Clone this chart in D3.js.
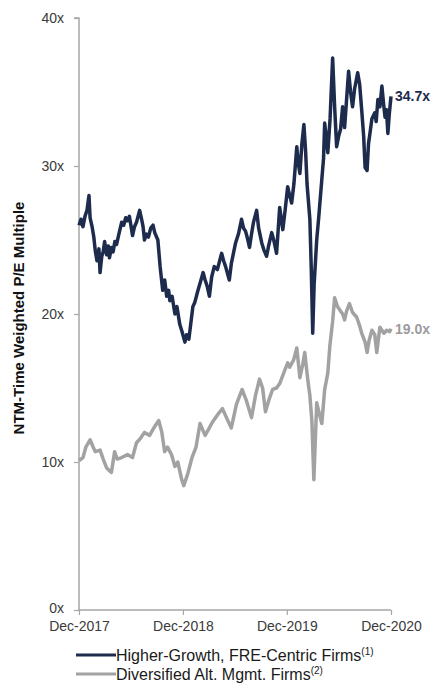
<!DOCTYPE html>
<html><head><meta charset="utf-8">
<script src="https://cdn.jsdelivr.net/npm/d3@7"></script>
<style>
html,body{margin:0;padding:0;background:#fff;}
svg{display:block;font-family:"Liberation Sans",Arial,sans-serif;}
</style></head>
<body><svg id="chart" width="438" height="683"></svg>
<script>
// ---- data ----
const yTicks = [0, 10, 20, 30, 40];
const yTickLabels = ["0x", "10x", "20x", "30x", "40x"];
const xTickDates = ["2017-12-01", "2018-12-01", "2019-12-01", "2020-12-01"];
const xTickLabels = ["Dec-2017", "Dec-2018", "Dec-2019", "Dec-2020"];
const seriesNames = ["Higher-Growth, FRE-Centric Firms", "Diversified Alt. Mgmt. Firms"];
const seriesNotes = ["(1)", "(2)"];
const endLabels = ["34.7x", "19.0x"];

const higherGrowthDates = ["2017-12-01","2017-12-08","2017-12-15","2017-12-22","2017-12-29","2018-01-05","2018-01-09","2018-01-16","2018-01-22","2018-01-27","2018-02-02","2018-02-09","2018-02-13","2018-02-19","2018-02-24","2018-03-01","2018-03-08","2018-03-14","2018-03-18","2018-03-25","2018-03-31","2018-04-06","2018-04-12","2018-04-20","2018-04-30","2018-05-07","2018-05-14","2018-05-20","2018-05-27","2018-06-03","2018-06-07","2018-06-14","2018-06-21","2018-07-02","2018-07-09","2018-07-14","2018-07-19","2018-07-26","2018-08-02","2018-08-10","2018-08-18","2018-08-24","2018-09-04","2018-09-12","2018-09-21","2018-09-28","2018-10-05","2018-10-12","2018-10-16","2018-10-24","2018-11-03","2018-11-10","2018-11-20","2018-11-28","2018-12-08","2018-12-14","2018-12-22","2019-01-05","2019-01-12","2019-01-23","2019-02-01","2019-02-10","2019-02-17","2019-02-24","2019-03-04","2019-03-12","2019-03-21","2019-04-01","2019-04-16","2019-04-23","2019-04-30","2019-05-13","2019-05-20","2019-06-04","2019-06-14","2019-06-25","2019-07-02","2019-07-09","2019-07-16","2019-07-23","2019-07-30","2019-08-06","2019-08-17","2019-08-24","2019-09-04","2019-09-12","2019-09-21","2019-09-28","2019-10-09","2019-10-16","2019-10-26","2019-11-06","2019-11-17","2019-11-25","2019-12-04","2019-12-11","2019-12-18","2019-12-26","2020-01-05","2020-01-10","2020-01-16","2020-01-23","2020-01-30","2020-02-05","2020-02-10","2020-02-20","2020-02-25","2020-03-01","2020-03-06","2020-03-15","2020-03-22","2020-04-02","2020-04-08","2020-04-12","2020-04-18","2020-04-23","2020-05-01","2020-05-10","2020-05-17","2020-05-24","2020-05-31","2020-06-07","2020-06-14","2020-06-21","2020-06-28","2020-07-05","2020-07-12","2020-07-19","2020-07-26","2020-08-06","2020-08-13","2020-08-20","2020-08-27","2020-09-01","2020-09-08","2020-09-13","2020-09-18","2020-09-25","2020-10-05","2020-10-10","2020-10-16","2020-10-23","2020-10-30","2020-11-05","2020-11-10","2020-11-15","2020-11-20","2020-11-25","2020-12-01"];
const higherGrowthValues = [26.0,26.4,25.9,26.6,27.0,28.0,26.5,25.9,25.2,24.3,23.6,24.4,22.8,23.9,24.2,24.9,24.0,24.6,23.8,24.5,24.2,24.9,24.7,25.4,26.2,26.0,26.5,26.3,26.6,25.8,25.3,25.9,26.2,27.0,26.4,25.9,25.0,25.4,25.2,25.8,26.0,25.5,25.0,23.2,21.6,22.3,21.2,21.6,20.9,21.2,20.0,20.5,19.3,18.8,18.1,18.6,18.3,20.5,20.8,21.6,22.2,22.8,22.3,21.9,21.2,22.5,23.2,23.0,24.1,23.6,23.2,22.3,23.4,24.8,25.4,26.4,25.8,25.6,25.1,24.5,25.4,26.2,27.0,25.8,24.8,24.3,23.9,24.6,25.5,25.0,24.1,27.2,25.7,27.0,28.6,28.0,27.5,28.8,31.3,30.2,29.5,31.5,32.8,31.0,28.8,26.4,23.0,18.7,22.0,25.0,26.5,29.1,30.5,32.9,31.9,30.9,33.2,37.3,34.0,31.3,32.0,32.5,34.0,32.6,34.5,36.4,35.0,34.0,35.2,36.3,35.5,33.8,32.0,29.9,29.7,31.5,32.2,33.2,33.6,33.0,34.5,34.0,35.4,34.2,33.3,33.8,32.2,33.5,34.7];

const diversifiedDates = ["2017-12-01","2017-12-15","2017-12-25","2018-01-09","2018-01-20","2018-01-27","2018-02-13","2018-02-24","2018-03-08","2018-03-25","2018-04-05","2018-04-14","2018-04-30","2018-05-20","2018-06-07","2018-06-21","2018-07-05","2018-07-19","2018-08-06","2018-08-24","2018-09-07","2018-09-18","2018-09-28","2018-10-08","2018-10-22","2018-11-03","2018-11-13","2018-11-27","2018-12-04","2018-12-18","2019-01-02","2019-01-16","2019-01-30","2019-02-17","2019-03-01","2019-03-15","2019-04-02","2019-04-19","2019-05-03","2019-05-20","2019-06-07","2019-06-27","2019-07-11","2019-07-30","2019-08-13","2019-08-27","2019-09-07","2019-09-17","2019-10-01","2019-10-12","2019-10-26","2019-11-06","2019-11-20","2019-12-04","2019-12-11","2019-12-25","2020-01-05","2020-01-16","2020-01-26","2020-02-02","2020-02-13","2020-02-20","2020-02-27","2020-03-05","2020-03-15","2020-03-25","2020-04-02","2020-04-12","2020-04-23","2020-04-30","2020-05-10","2020-05-17","2020-05-27","2020-06-03","2020-06-14","2020-06-21","2020-06-28","2020-07-08","2020-07-19","2020-08-02","2020-08-13","2020-08-20","2020-09-01","2020-09-08","2020-09-15","2020-09-25","2020-10-05","2020-10-12","2020-10-19","2020-10-23","2020-11-06","2020-11-16","2020-11-26","2020-12-01"];
const diversifiedValues = [10.1,10.3,11.0,11.5,11.0,10.7,10.8,10.2,9.6,9.3,10.7,10.2,10.3,10.5,10.3,11.3,11.6,12.0,11.8,12.4,12.8,12.0,10.7,11.0,10.5,9.7,10.0,8.8,8.4,9.2,10.3,11.0,12.6,11.8,12.2,12.7,13.2,13.6,13.0,12.3,13.9,14.9,14.2,13.0,14.5,15.6,15.0,13.4,14.3,14.9,15.0,15.3,16.0,16.7,16.4,16.9,17.7,15.7,16.6,17.4,15.5,14.5,12.8,8.8,14.0,13.2,12.6,14.9,16.0,17.8,19.5,21.1,20.5,20.3,20.0,19.6,20.2,20.7,20.1,19.8,19.2,18.7,18.1,17.4,18.2,18.9,18.6,17.4,18.5,19.1,18.7,18.9,18.8,19.0];

const colors = ["#1d2b4c", "#a2a2a2"];

// ---- chart ----
(function () {
const svg = d3.select("#chart");
const parse = d3.timeParse("%Y-%m-%d");
const plotLeft = 79, plotRight = 391, plotTop = 18, plotBottom = 610;

const x = d3.scaleTime()
  .domain([parse(xTickDates[0]), parse(xTickDates[xTickDates.length - 1])])
  .range([plotLeft, plotRight]);
const y = d3.scaleLinear().domain([0, 40]).range([plotBottom, plotTop]);

const axisColor = "#a6a6a6";
const textColor = "#3a3a3a";

// y axis
const yAxis = svg.append("g").attr("transform", `translate(${plotLeft},0)`)
  .call(d3.axisLeft(y).tickValues(yTicks).tickSize(5).tickPadding(10)
    .tickFormat((d, i) => yTickLabels[i]));
yAxis.select(".domain").attr("stroke", axisColor).attr("stroke-width", 1.5).attr("d", `M-5,${y(40)}H0V${y(0)}`);
yAxis.selectAll(".tick line").attr("stroke", axisColor).attr("stroke-width", 1.2);
yAxis.selectAll(".tick text").attr("fill", textColor).style("font-size", "14px")
  .style("font-family", '"Liberation Sans",Arial,sans-serif');
yAxis.selectAll(".tick text").filter(d => d === 0).attr("dy", "0.2em");

// x axis
const xAxis = svg.append("g").attr("transform", `translate(0,${plotBottom})`)
  .call(d3.axisBottom(x).tickValues(xTickDates.map(parse)).tickSize(5).tickPadding(6)
    .tickFormat((d, i) => xTickLabels[i]));
xAxis.select(".domain").attr("stroke", axisColor).attr("stroke-width", 1.5).attr("d", `M${plotLeft},0H${plotRight}`);
xAxis.selectAll(".tick line").attr("stroke", axisColor).attr("stroke-width", 1.2);
xAxis.selectAll(".tick text").attr("fill", textColor).style("font-size", "14px")
  .style("font-family", '"Liberation Sans",Arial,sans-serif');

// y title
svg.append("text")
  .attr("transform", `translate(24,318) rotate(-90)`)
  .attr("text-anchor", "middle")
  .style("font-size", "15px").style("font-weight", "bold").attr("fill", "#111")
  .text("NTM-Time Weighted P/E Multiple");

// lines
const line = d3.line().x(d => x(d[0])).y(d => y(d[1]));
const series = [
  higherGrowthDates.map((d, i) => [parse(d), higherGrowthValues[i]]),
  diversifiedDates.map((d, i) => [parse(d), diversifiedValues[i]])
];
[1, 0].forEach(k => {
  svg.append("path").datum(series[k])
    .attr("d", line).attr("fill", "none").attr("stroke", colors[k])
    .attr("stroke-width", 3.5).attr("stroke-linejoin", "round");
});

// end labels
series.forEach((s, k) => {
  const last = s[s.length - 1];
  svg.append("text")
    .attr("x", x(last[0]) + 4).attr("y", y(last[1]) + 5)
    .style("font-size", "14px").style("font-weight", "bold")
    .attr("fill", k === 0 ? colors[0] : "#9b9b9b")
    .text(endLabels[k]);
});

// legend
const legY = [655, 674];
seriesNames.forEach((name, k) => {
  svg.append("line").attr("x1", 76).attr("x2", 116)
    .attr("y1", legY[k]).attr("y2", legY[k])
    .attr("stroke", colors[k]).attr("stroke-width", 3);
  const t = svg.append("text").attr("x", 116).attr("y", legY[k] + 5.5)
    .style("font-size", "16px").attr("fill", "#1a1a1a");
  t.append("tspan").text(name);
  t.append("tspan").attr("dy", -6).style("font-size", "10px").text(seriesNotes[k]);
});
})();
</script>
</body></html>
